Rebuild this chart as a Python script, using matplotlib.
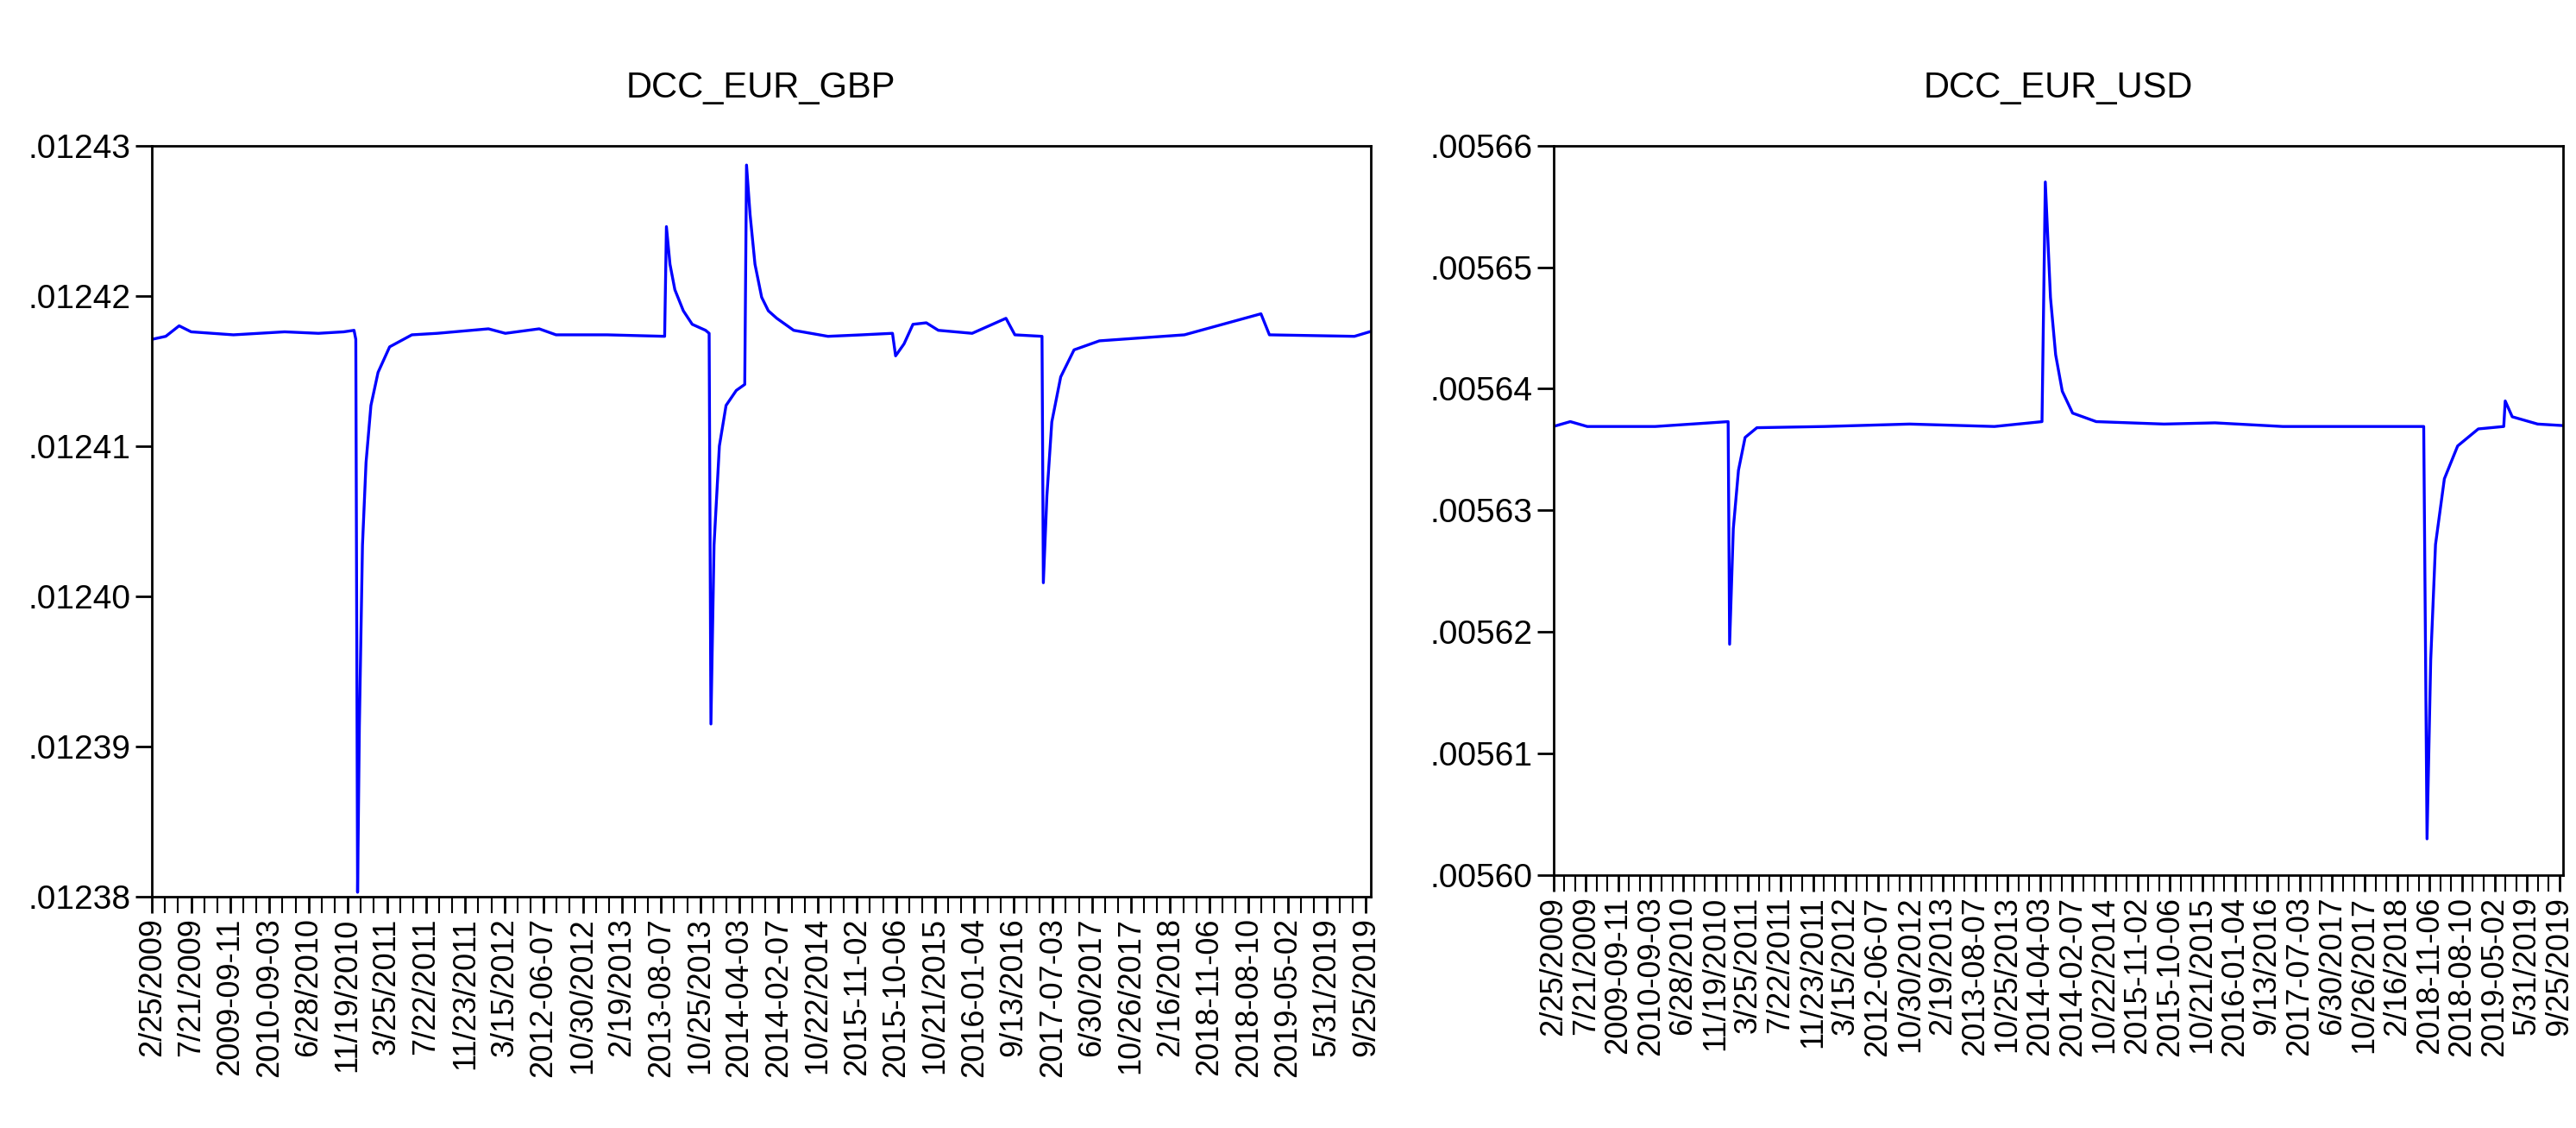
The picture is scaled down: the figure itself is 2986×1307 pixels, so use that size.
import matplotlib
matplotlib.use("Agg")
import matplotlib.pyplot as plt
import numpy as np

plt.rcParams['font.family'] = ['Liberation Sans', 'DejaVu Sans']

tick_labels = ["2/25/2009", "7/21/2009", "2009-09-11", "2010-09-03", "6/28/2010", "11/19/2010",
               "3/25/2011", "7/22/2011", "11/23/2011", "3/15/2012", "2012-06-07", "10/30/2012",
               "2/19/2013", "2013-08-07", "10/25/2013", "2014-04-03", "2014-02-07", "10/22/2014",
               "2015-11-02", "2015-10-06", "10/21/2015", "2016-01-04", "9/13/2016", "2017-07-03",
               "6/30/2017", "10/26/2017", "2/16/2018", "2018-11-06", "2018-08-10", "2019-05-02",
               "5/31/2019", "9/25/2019"]
label_step = 88

gbp_idx = [0, 31, 61, 88, 183, 298, 374, 431, 454, 458, 462, 466, 473, 481, 492, 508, 534, 584, 641,
           756, 794, 870, 908, 1023, 1152, 1156, 1164, 1175, 1194, 1214, 1244, 1252, 1256, 1263, 1275,
           1290, 1313, 1332, 1336, 1344, 1355, 1370, 1385, 1404, 1442, 1519, 1595, 1664, 1671, 1690,
           1710, 1740, 1767, 1843, 1919, 1939, 2000, 2003, 2011, 2022, 2042, 2072, 2129, 2320, 2492,
           2511, 2702, 2770, 2809]
gbp_val = [.0124171, .0124173, .0124180, .0124176, .0124174, .0124176, .0124175, .0124176, .0124177,
           .0124171, .0123803, .0123913, .0124034, .0124089, .0124127, .0124149, .0124166, .0124174,
           .0124175, .0124178, .0124175, .0124178, .0124174, .0124174, .0124173, .0124246, .0124221,
           .0124204, .0124190, .0124181, .0124177, .0124175, .0123915, .0124034, .0124100, .0124127,
           .0124137, .0124141, .0124287, .0124254, .0124221, .0124199, .0124190, .0124185, .0124177,
           .0124173, .0124174, .0124175, .0124160, .0124168, .0124181, .0124182, .0124177, .0124175,
           .0124185, .0124174, .0124173, .0124009, .0124067, .0124116, .0124146, .0124164, .0124170,
           .0124174, .0124188, .0124174, .0124173, .0124179, .0124177]

usd_idx = [0, 46, 92, 276, 474, 478, 488, 502, 520, 552, 736, 966, 1196, 1325, 1334, 1348, 1362, 1380,
           1408, 1472, 1564, 1656, 1794, 1978, 2360, 2369, 2379, 2392, 2416, 2452, 2508, 2577, 2581,
           2600, 2669, 2779, 2784, 2811]
usd_val = [.0056369, .0056373, .0056369, .0056369, .0056373, .0056190, .0056285, .0056333, .0056360,
           .0056368, .0056369, .0056371, .0056369, .0056373, .0056570, .0056475, .0056428, .0056398,
           .0056380, .0056373, .0056372, .0056371, .0056372, .0056369, .0056369, .0056030, .0056177,
           .0056272, .0056326, .0056353, .0056367, .0056369, .0056390, .0056377, .0056371, .0056369,
           .0056390, .0056380]

gbp_yticks = [.01238, .01239, .01240, .01241, .01242, .01243]
usd_yticks = [.00560, .00561, .00562, .00563, .00564, .00565, .00566]

fig = plt.figure(figsize=(29.86, 13.07), dpi=100)
ax1 = fig.add_axes([0.059, 0.205, 0.473, 0.666])
ax2 = fig.add_axes([0.603, 0.224, 0.392, 0.647])

def style(ax, idx, val, yt, title, fmt):
    ax.plot(idx, val, color='#0000ff', lw=2.4)
    n = len(tick_labels)
    ax.set_xlim(0, (n - 1) * label_step + 10)
    ax.set_xticks([i * label_step for i in range(n)])
    ax.set_xticklabels(tick_labels, rotation=90, fontsize=26)
    ax.set_xticks(np.arange(0, (n - 1) * label_step + 10, label_step / 3), minor=True)
    ax.set_ylim(yt[0], yt[-1])
    ax.set_yticks(yt)
    ax.set_yticklabels([fmt(v) for v in yt], fontsize=28)
    ax.tick_params(axis='both', which='both', direction='out', length=14, width=2)
    ax.tick_params(axis='x', which='minor', length=14, width=1.5)
    for s in ax.spines.values():
        s.set_linewidth(2)
    ax.set_title(title, fontsize=30, pad=40)

style(ax1, gbp_idx, gbp_val, gbp_yticks, "DCC_EUR_GBP", lambda v: ("%.5f" % v)[1:])
style(ax2, usd_idx, usd_val, usd_yticks, "DCC_EUR_USD", lambda v: ("%.5f" % v)[1:])

fig.savefig("out.png", dpi=100)
